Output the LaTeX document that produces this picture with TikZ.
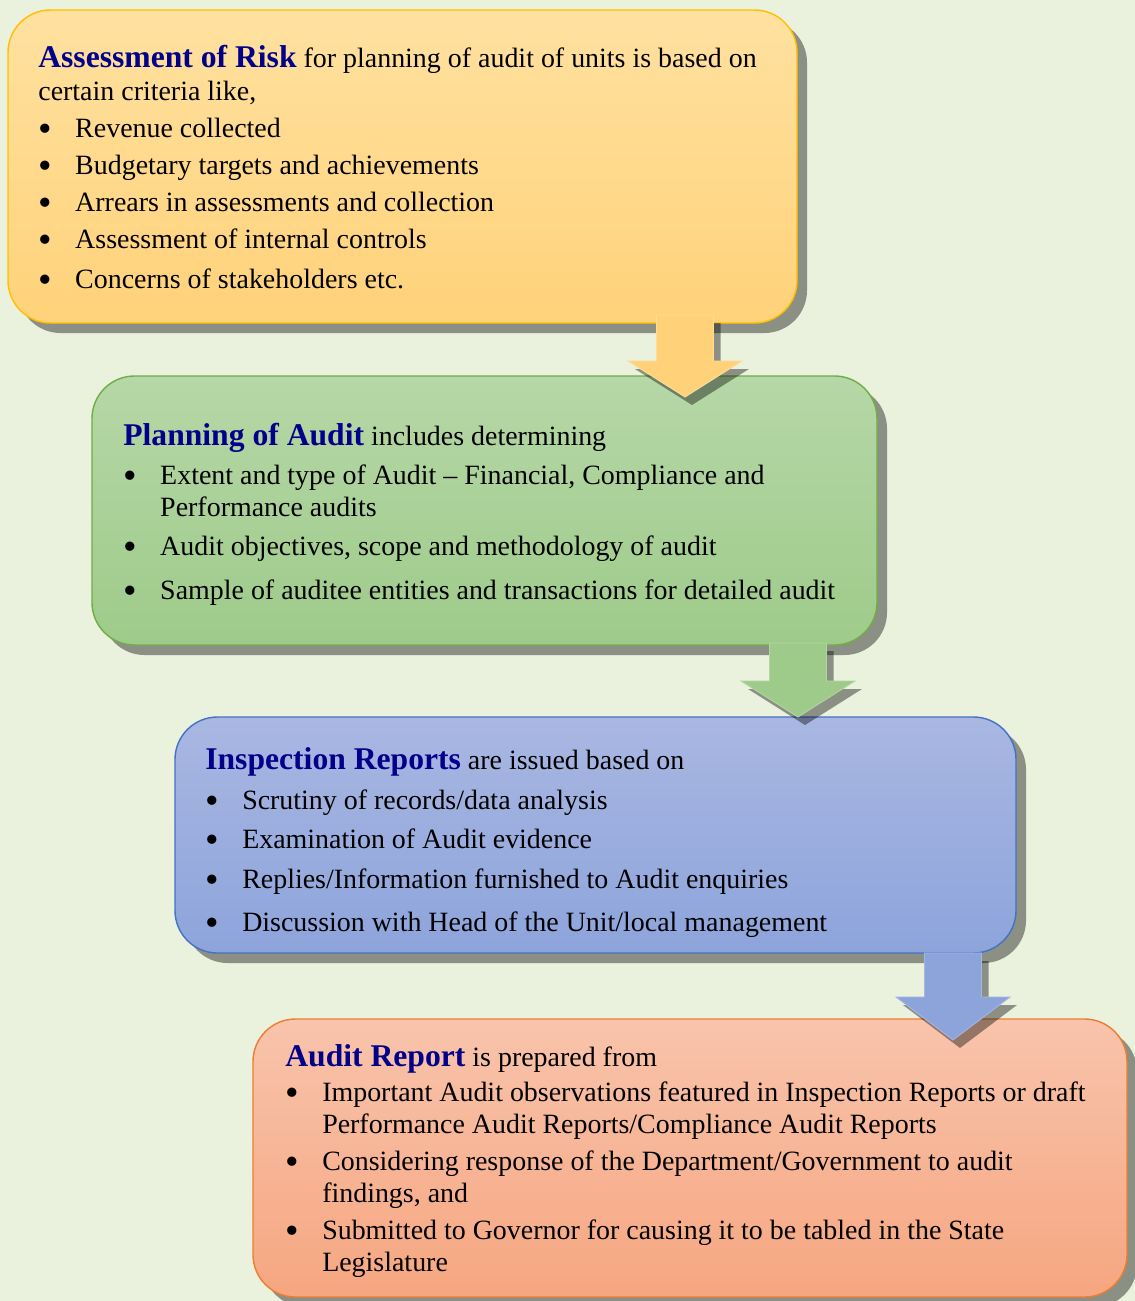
\documentclass[tikz,border=0pt]{standalone}
\usepackage{fontspec}
\setmainfont{Liberation Serif}

\definecolor{bg}{RGB}{234,241,221}
\definecolor{riskTop}{RGB}{255,225,160}
\definecolor{riskBot}{RGB}{255,210,122}
\definecolor{riskLine}{RGB}{255,192,0}
\definecolor{planTop}{RGB}{182,215,167}
\definecolor{planBot}{RGB}{158,203,138}
\definecolor{planLine}{RGB}{112,173,71}
\definecolor{inspTop}{RGB}{169,183,226}
\definecolor{inspBot}{RGB}{141,164,219}
\definecolor{inspLine}{RGB}{68,114,196}
\definecolor{repTop}{RGB}{248,196,172}
\definecolor{repBot}{RGB}{246,166,128}
\definecolor{repLine}{RGB}{237,125,49}
\definecolor{ttlblue}{RGB}{0,0,139}

\newcommand{\ttl}[1]{\rule{0pt}{13pt}{\fontsize{18}{18}\selectfont\bfseries\color{ttlblue}#1}}
\newcommand{\bul}{\makebox[21pt][l]{\fontsize{22}{0}\selectfont\raisebox{-2.4pt}{\textbullet}}}
\newcommand{\cnt}{\hspace*{21pt}}

\tikzset{
    stagetext/.style={anchor=north west, inner sep=0pt, align=left,
        font=\fontsize{15.9}{18.2}\selectfont},
    shadowfill/.style={fill=black, opacity=0.4},
    frame/.style={rounded corners=0.85cm, line width=0.8pt},
}

\begin{document}
\begin{tikzpicture}[x=0.02cm,y=-0.02cm]
    \useasboundingbox (0,0) rectangle (1135,1301);
    \fill[bg] (0,0) rectangle (1135,1301);

    % frames with shadows
    \foreach \xa/\ya/\xb/\yb/\col in {8/10/797/323/risk, 92/376/877/645/plan,
        175/717/1016/953/insp, 253/1019/1127/1297/rep}{
        \fill[shadowfill, rounded corners=0.85cm] (\xa+10,\ya+10) rectangle (\xb+10,\yb+10);
        \draw[frame, top color=\col Top, bottom color=\col Bot, draw=\col Line]
            (\xa,\ya) rectangle (\xb,\yb);
    }

    % block arrows between the frames
    \foreach \cx/\ytop/\yhead/\ytip/\col in {685/315/361/397/riskBot,
        798/643/681/717/planBot, 953/953/997/1040/inspBot}{
        \fill[shadowfill] (\cx-21.5,\ytop+8) -- (\cx+35.5,\ytop+8) -- (\cx+35.5,\yhead+8)
            -- (\cx+64,\yhead+8) -- (\cx+7,\ytip+8) -- (\cx-50,\yhead+8) -- (\cx-21.5,\yhead+8) -- cycle;
        \draw[fill=\col, draw=\col!80!white, line width=0.5pt] (\cx-28.5,\ytop) -- (\cx+28.5,\ytop)
            -- (\cx+28.5,\yhead) -- (\cx+57,\yhead) -- (\cx,\ytip) -- (\cx-57,\yhead)
            -- (\cx-28.5,\yhead) -- cycle;
    }

    \node[stagetext] (risk) at (38,44) {%
        \ttl{Assessment of Risk} for planning of audit of units is based on\\[0.6pt]
        certain criteria like,\\[2.9pt]
        \bul Revenue collected\\[2.9pt]
        \bul Budgetary targets and achievements\\[2.9pt]
        \bul Arrears in assessments and collection\\[2.9pt]
        \bul Assessment of internal controls\\[4.6pt]
        \bul Concerns of stakeholders etc.};

    \node[stagetext] (plan) at (123,422) {%
        \ttl{Planning of Audit} includes determining\\[4pt]
        \bul Extent and type of Audit -- Financial, Compliance and\\
        \cnt Performance audits\\[4pt]
        \bul Audit objectives, scope and methodology of audit\\[6.8pt]
        \bul Sample of auditee entities and transactions for detailed audit};

    \node[stagetext] (insp) at (205,746) {%
        \ttl{Inspection Reports} are issued based on\\[4.6pt]
        \bul Scrutiny of records/data analysis\\[4pt]
        \bul Examination of Audit evidence\\[4.6pt]
        \bul Replies/Information furnished to Audit enquiries\\[6.3pt]
        \bul Discussion with Head of the Unit/local management};

    \node[stagetext] (rep) at (285,1043) {%
        \ttl{Audit Report} is prepared from\\[1.7pt]
        \bul Important Audit observations featured in Inspection Reports or draft\\
        \cnt Performance Audit Reports/Compliance Audit Reports\\[2.9pt]
        \bul Considering response of the Department/Government to audit\\
        \cnt findings, and\\[2.9pt]
        \bul Submitted to Governor for causing it to be tabled in the State\\
        \cnt Legislature};
\end{tikzpicture}
\end{document}
